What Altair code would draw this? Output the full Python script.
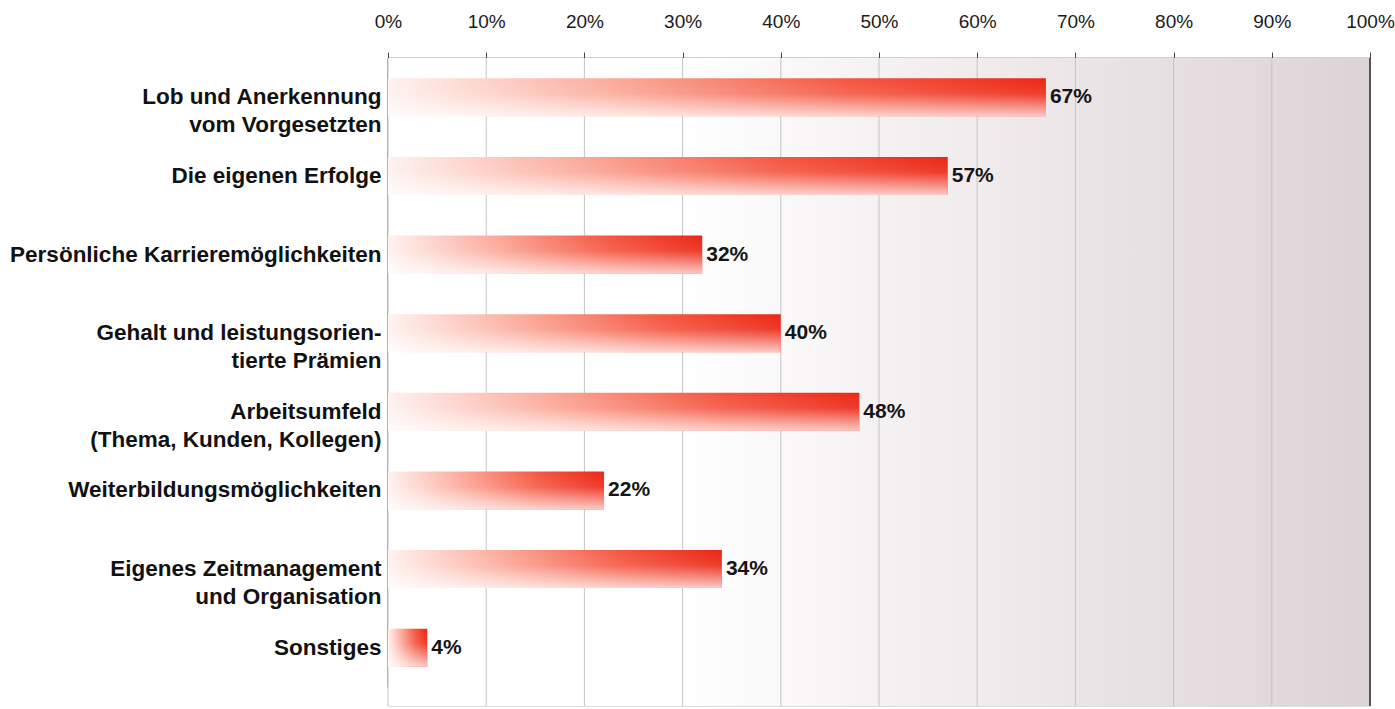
import altair as alt
import pandas as pd

categories = [
    "Lob und Anerkennung|vom Vorgesetzten",
    "Die eigenen Erfolge",
    "Persönliche Karrieremöglichkeiten",
    "Gehalt und leistungsorien-|tierte Prämien",
    "Arbeitsumfeld|(Thema, Kunden, Kollegen)",
    "Weiterbildungsmöglichkeiten",
    "Eigenes Zeitmanagement|und Organisation",
    "Sonstiges",
]
values = [67, 57, 32, 40, 48, 22, 34, 4]
tick_values = [0, 10, 20, 30, 40, 50, 60, 70, 80, 90, 100]

df = pd.DataFrame({"cat": categories, "val": values})
df["lbl"] = df["val"].astype(str) + "%"

W, H = 982, 648
FONT = "Liberation Sans"

y_enc = alt.Y(
    "cat:N",
    sort=categories,
    scale=alt.Scale(range=[0, 629], paddingInner=0, paddingOuter=0),
    axis=alt.Axis(
        title=None,
        labelExpr="split(datum.label, '|')",
        labelFont=FONT,
        labelFontSize=22.5,
        labelFontWeight="bold",
        labelColor="#111111",
        labelLimit=420,
        labelPadding=7,
        labelLineHeight=28,
        ticks=False,
        domain=True,
        domainColor="#444444",
        domainWidth=2,
        grid=False,
    ),
)

x_scale = alt.Scale(domain=[0, 100], nice=False)
x_axis = alt.Axis(
    orient="top",
    values=tick_values,
    labelExpr="datum.value + '%'",
    title=None,
    labelFont=FONT,
    labelFontSize=19,
    labelColor="#1a1a1a",
    labelPadding=21,
    labelFlush=False,
    labelOverlap=False,
    tickSize=6,
    tickColor="#444444",
    domainColor="#444444",
    domainWidth=1.5,
    grid=True,
    gridColor="#c4c4c4",
    gridWidth=1,
)

bg = alt.Chart(pd.DataFrame({"a": [0]})).mark_rect(
    color=alt.LinearGradient(
        gradient="linear",
        x1=0, y1=0, x2=1, y2=0,
        stops=[
            alt.GradientStop(offset=0, color="#ffffff"),
            alt.GradientStop(offset=0.3, color="#ffffff"),
            alt.GradientStop(offset=0.65, color="#eee8ea"),
            alt.GradientStop(offset=1, color="#ddd3d7"),
        ],
    )
).encode(x=alt.value(0), x2=alt.value(W), y=alt.value(0), y2=alt.value(H))

grid = alt.Chart(pd.DataFrame({"t": tick_values})).mark_rule(color="#c4c4c4").encode(
    x=alt.X("t:Q", scale=x_scale, axis=x_axis)
)

right_edge = alt.Chart(pd.DataFrame({"t": [100]})).mark_rule(color="#555555", strokeWidth=2).encode(
    x=alt.X("t:Q", scale=x_scale)
)

bars = alt.Chart(df).mark_bar(
    size=38,
    color=alt.LinearGradient(
        gradient="linear",
        x1=0, y1=0, x2=1, y2=0,
        stops=[
            alt.GradientStop(offset=0, color="#fff2ef"),
            alt.GradientStop(offset=0.35, color="#fba898"),
            alt.GradientStop(offset=0.7, color="#f45640"),
            alt.GradientStop(offset=1, color="#ec2614"),
        ],
    ),
).encode(x=alt.X("val:Q", scale=x_scale), x2=alt.value(12), y=y_enc)

shade = alt.Chart(df).mark_bar(
    size=38,
    color=alt.LinearGradient(
        gradient="linear",
        x1=0, y1=0, x2=0, y2=1,
        stops=[
            alt.GradientStop(offset=0, color="rgba(255,255,255,0)"),
            alt.GradientStop(offset=0.4, color="rgba(255,255,255,0.1)"),
            alt.GradientStop(offset=1, color="rgba(255,255,255,0.75)"),
        ],
    ),
).encode(x=alt.X("val:Q", scale=x_scale), x2=alt.value(12), y=y_enc)

text = alt.Chart(df).mark_text(
    align="left", baseline="middle", dx=4, font=FONT, fontSize=21, fontWeight="bold", color="#151515"
).encode(x=alt.X("val:Q", scale=x_scale), y=y_enc, text="lbl:N")

chart = alt.layer(bg, grid, right_edge, bars, shade, text).properties(
    width=W,
    height=H,
    autosize=alt.AutoSizeParams(type="none"),
    padding={"left": 388, "top": 58, "right": 25, "bottom": 3},
).configure_view(stroke=None).configure(background="#ffffff")

chart.save("out.html", embed_options={"renderer": "svg", "actions": False})
